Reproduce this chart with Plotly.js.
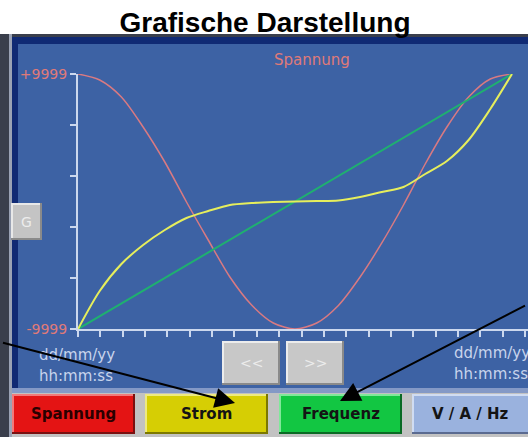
<!DOCTYPE html>
<html>
<head>
<meta charset="utf-8">
<script src="https://cdn.plot.ly/plotly-3.0.1.min.js"></script>
<style>html,body{margin:0;padding:0;overflow:hidden;background:#fff}</style>
</head>
<body>
<div id="chart" style="width:528px;height:437px"></div>
<script>
// ---- data ----
const xPos = [0,5,10,15,20,25,30,35,40,45,50,55,60,65,70,75,80,85,90,95,100];
const spannung = [9999,9528,8195,5843,3098,-39,-3019,-5921,-8118,-9528,-9999,-9528,-8150,-5921,-3250,-274,2941,5843,8195,9607,9999];
const strom = [-9999,-7018,-4901,-3411,-2235,-1293,-745,-274,-120,-40,0,40,80,353,745,1137,2157,3176,4823,7254,9999];
const freqX = [0,100];
const frequenz = [-9999,9999];
const yTickText = ['-9999','','','','','+9999'];
const buttonLabels = ['Spannung','Strom','Frequenz','V / A / Hz'];
const navLabels = ['<<','>>'];
const dateLabel = 'dd/mm/yy';
const timeLabel = 'hh:mm:ss';

// ---- layout geometry helpers (pixels -> paper) ----
const L = 78, T = 74, W = 450, H = 255;
const px = x => (x - L) / W;
const py = y => 1 - (y - T) / H;
function rect(x0, y0, x1, y1, fill) {
  return {type:'rect', xref:'paper', yref:'paper', layer:'below',
    x0:px(x0), x1:px(x1), y0:py(y1), y1:py(y0), fillcolor:fill, line:{width:0}};
}
function bevel(x0, y0, x1, y1, main, hi, sh) {
  return [rect(x0,y0,x1,y1,sh), rect(x0,y0,x1-2,y1-2,hi), rect(x0+2,y0+2,x1-2,y1-2,main)];
}
function txt(x, y, text, size, color, opts) {
  return Object.assign({xref:'paper', yref:'paper', x:px(x), y:py(y), text:text, showarrow:false,
    xanchor:'center', yanchor:'middle', font:{family:'DejaVu Sans', size:size, color:color}}, opts||{});
}

const yMin = -9999, yMax = 9999;
const yTicks = yTickText.map((_, i) => yMin + i * (yMax - yMin) / (yTickText.length - 1));

let shapes = [
  rect(0,34,528,437,'#3a3f4c'),
  rect(9,34,12,437,'#9aa2b4'),
  rect(12,37,528,44,'#102a74'),
  rect(12,37,18,390,'#102a74'),
  rect(18,44,528,388,'#3d62a4'),
  rect(12,388,528,393,'#8499c6'),
  rect(12,393,528,437,'#c2c2c2'),
];
shapes = shapes
  .concat(bevel(12,394,135,434,'#e41414','#f27a7a','#7a1010'))
  .concat(bevel(145,394,268,434,'#d6ce04','#eeea80','#7c7800'))
  .concat(bevel(279,394,402,434,'#12c642','#80e89a','#0a6a24'))
  .concat(bevel(412,394,540,434,'#9ab2de','#d0dcf2','#5a6a90'))
  .concat(bevel(222,341,280,385,'#c8c8c8','#ececec','#8a8a8a'))
  .concat(bevel(286,341,344,385,'#c8c8c8','#ececec','#8a8a8a'))
  .concat(bevel(11,203,42,240,'#c4c4c4','#e8e8e8','#8a8a8a'));

const btnCenters = [73.5, 206.5, 340.5, 470];
const annotations = [
  txt(312, 60, 'Spannung', 15, '#e07a78'),
  txt(26.5, 221.5, 'G', 14, '#ececec'),
  txt(251, 363, navLabels[0], 14, '#ececec'),
  txt(315, 363, navLabels[1], 14, '#ececec'),
  txt(37, 355, dateLabel, 15, '#c8d4ec', {xanchor:'left'}),
  txt(37, 376, timeLabel, 15, '#c8d4ec', {xanchor:'left'}),
  txt(452, 353, dateLabel, 15, '#c8d4ec', {xanchor:'left'}),
  txt(452, 374, timeLabel, 15, '#c8d4ec', {xanchor:'left'}),
];
buttonLabels.forEach((b, i) => {
  annotations.push(txt(btnCenters[i], 414, '<b>' + b + '</b>', 15, i === 0 ? '#2a0000' : '#141414'));
});
annotations.push({xref:'paper', yref:'paper', x:px(235), y:py(403), ax:-240, ay:-61, text:' ',
  showarrow:true, arrowhead:2, arrowsize:2, arrowwidth:2, arrowcolor:'#000', standoff:0});
annotations.push({xref:'paper', yref:'paper', x:px(340), y:py(401), ax:192, ay:-97, text:' ',
  showarrow:true, arrowhead:2, arrowsize:2, arrowwidth:2, arrowcolor:'#000', standoff:0});

const traces = [
  {x:xPos, y:spannung, mode:'lines', name:'Spannung', line:{color:'#d97a82', width:1.5, shape:'spline', smoothing:0.8}, cliponaxis:false},
  {x:freqX, y:frequenz, mode:'lines', name:'Frequenz', line:{color:'#1fb070', width:2}, cliponaxis:false},
  {x:xPos, y:strom, mode:'lines', name:'Strom', line:{color:'#e6ee5c', width:2, shape:'spline', smoothing:0.8}, cliponaxis:false},
];

const axisColor = '#ccd8ee';
const layout = {
  width:528, height:437,
  margin:{l:L, r:528-L-W, t:T, b:437-T-H, pad:0},
  paper_bgcolor:'#ffffff', plot_bgcolor:'rgba(0,0,0,0)',
  showlegend:false,
  title:{text:'<b>Grafische Darstellung</b>', font:{family:'Liberation Sans', size:28, color:'#000'},
    x:265/528, xref:'container', xanchor:'center', y:1-22/437, yref:'container', yanchor:'middle'},
  xaxis:{range:[0, 100*W/434], showline:true, linecolor:axisColor, linewidth:2, ticks:'outside',
    ticklen:6, tickwidth:2, tickcolor:axisColor, tick0:0, dtick:100*22.35/434, showticklabels:false,
    showgrid:false, zeroline:false, fixedrange:true},
  yaxis:{range:[yMin, yMax], showline:true, linecolor:axisColor, linewidth:2, ticks:'outside',
    ticklen:6, tickwidth:2, tickcolor:axisColor, tickvals:yTicks, ticktext:yTickText,
    tickfont:{family:'DejaVu Sans', size:14, color:'#e07a78'}, showgrid:false, zeroline:false, fixedrange:true},
  shapes:shapes,
  annotations:annotations,
};
Plotly.newPlot('chart', traces, layout, {displayModeBar:false, staticPlot:true});
</script>
</body>
</html>
